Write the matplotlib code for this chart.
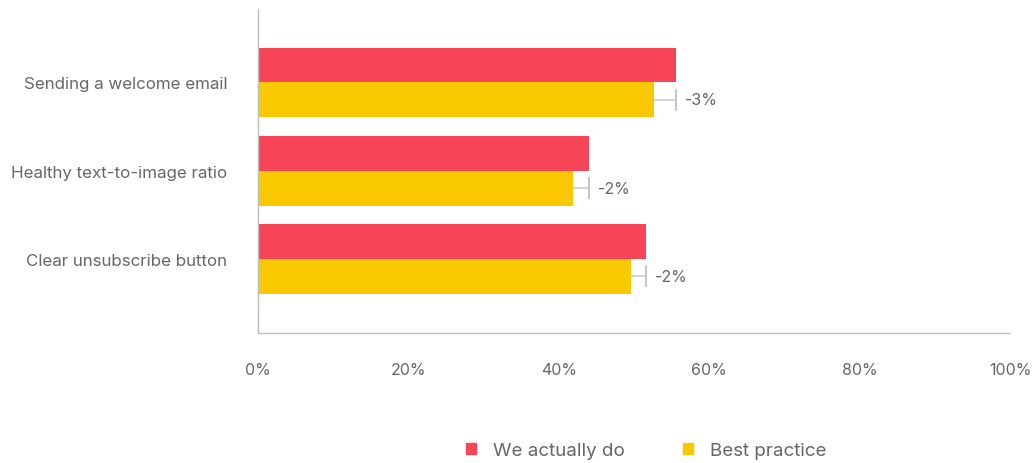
import numpy as np
import matplotlib
matplotlib.use("Agg")
import matplotlib.pyplot as plt
from matplotlib.patches import Patch

categories = ["Sending a welcome email", "Healthy text-to-image ratio", "Clear unsubscribe button"]
actual = [55.6, 44.0, 51.6]
best = [52.7, 41.9, 49.6]
series_names = ["We actually do", "Best practice"]
xticks = [0, 20, 40, 60, 80, 100]

red = "#F64557"
yellow = "#FAC800"
text_col = "#666666"
spine_col = "#BDBDBD"

plt.rcParams['font.family'] = ['Inter', 'DejaVu Sans']

fig = plt.figure(figsize=(10.34, 4.64), dpi=100)
ax = fig.add_axes([0.2495, 0.2802, 0.7273, 0.6978])

y = np.arange(len(categories))
h = 0.395
ax.barh(y - h / 2, actual, height=h, color=red)
ax.barh(y + h / 2, best, height=h, color=yellow)

# difference markers: line from best-practice bar to actual value, with a cap
for i, (a, b) in enumerate(zip(actual, best)):
    yc = i + h / 2
    ax.plot([b, a], [yc, yc], color="#CCCCCC", lw=1.2, solid_capstyle="butt")
    ax.plot([a, a], [yc - 0.113, yc + 0.113], color="#BBBBBB", lw=1.2)
    diff = round(b - a)
    ax.annotate(f"{diff}%", (a, yc), xytext=(6.5, 0), textcoords="offset points",
                ha="left", va="center", fontsize=11.5, color=text_col)

ax.set_xlim(0, 100)
ax.set_ylim(2.84, -0.83)
ax.set_xticks(xticks)
ax.set_xticklabels([f"{t}%" for t in xticks])
ax.set_yticks(y)
ax.set_yticklabels(categories, fontsize=12.2)
ax.tick_params(axis="both", length=0, colors=text_col)
ax.tick_params(axis="x", labelsize=11.5, pad=21)
ax.tick_params(axis="y", pad=22)

for s in ["top", "right"]:
    ax.spines[s].set_visible(False)
for s in ["left", "bottom"]:
    ax.spines[s].set_color(spine_col)
    ax.spines[s].set_linewidth(1)

handles = [Patch(color=red), Patch(color=yellow)]
fig.legend(handles, series_names, loc="center", bbox_to_anchor=(0.625, 0.027),
           ncol=2, frameon=False, fontsize=13.5, labelcolor=text_col,
           handlelength=0.55, handleheight=0.55, handletextpad=0.9, columnspacing=3.1)

fig.savefig("out.png", dpi=100)
